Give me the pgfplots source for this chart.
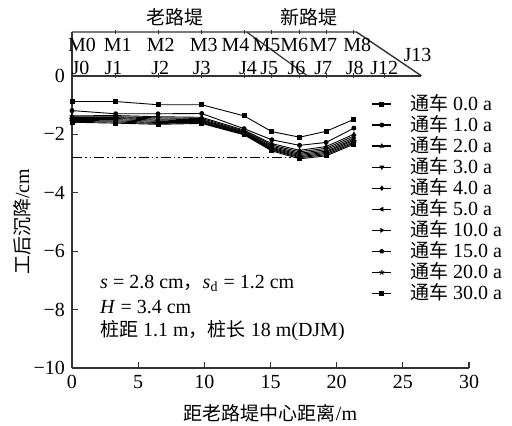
\documentclass[border=0pt]{standalone}
\usepackage{fontspec}
\setmainfont{Liberation Serif}
\newfontfamily\cjk{Noto Sans CJK SC}[Scale=0.95]
\usepackage{pgfplots}
\pgfplotsset{compat=1.18}
\newcommand{\tc}[1]{\hspace{7pt}{\cjk 通车} #1 a}
\begin{document}
\begin{tikzpicture}
\begin{axis}[
  scale only axis, width=198.5pt, height=168pt,
  xmin=0, xmax=30, ymin=-10, ymax=1.5,
  axis lines=left, axis line style={-, line width=0.7pt, black!80},
  xtick={0,5,...,30}, ytick={-10,-8,-6,-4,-2,0},
  yticklabels={−10,−8,−6,−4,−2,0},
  tick align=inside, major tick length=3pt, tick style={line width=0.6pt, black!80},
  /pgf/number format/assume math mode=true,
  font=\fontsize{10}{12}\selectfont,
  xlabel={{\cjk 距老路堤中心距离}/m},
  xlabel style={at={(axis description cs:0.5,-0.135)}, anchor=center},
  ylabel={{\cjk 工后沉降}/cm},
  ylabel style={at={(axis description cs:-0.126,0.4348)}, anchor=center},
  clip=false,
  legend cell align=left,
  legend style={draw=none, fill=none, at={(axis cs:22.15,-0.35)}, anchor=north west,
    row sep=-3pt, font=\fontsize{10}{12}\selectfont,
    nodes={inner xsep=2pt}},
  legend image code/.code={\draw[line width=0.6pt, mark=none] (0cm,0cm) -- (0.34cm,0cm);
    \draw[mark repeat=2,mark phase=2] plot coordinates {(0cm,0cm)(0.17cm,0cm)(0.34cm,0cm)};},
  every axis plot/.append style={black, line width=0.45pt, mark size=1.0pt},
]
\addplot[mark=square*] coordinates {(0,-0.88)(3.3,-0.88)(6.5,-0.99)(9.8,-0.99)(13.0,-1.37)(15.1,-1.91)(17.2,-2.10)(19.2,-1.90)(21.3,-1.49)};
\addlegendentry{\tc{0.0}}
\addplot[mark=*] coordinates {(0,-1.19)(3.3,-1.30)(6.5,-1.30)(9.8,-1.29)(13.0,-1.81)(15.1,-2.19)(17.2,-2.38)(19.2,-2.28)(21.3,-1.79)};
\addlegendentry{\tc{1.0}}
\addplot[mark=triangle*] coordinates {(0,-1.37)(3.3,-1.36)(6.5,-1.40)(9.8,-1.42)(13.0,-1.86)(15.1,-2.32)(17.2,-2.55)(19.2,-2.42)(21.3,-2.00)};
\addlegendentry{\tc{2.0}}
\addplot[mark=triangle*, mark options={rotate=180}] coordinates {(0,-1.40)(3.3,-1.40)(6.5,-1.44)(9.8,-1.46)(13.0,-1.89)(15.1,-2.37)(17.2,-2.60)(19.2,-2.48)(21.3,-2.06)};
\addlegendentry{\tc{3.0}}
\addplot[mark=diamond*] coordinates {(0,-1.43)(3.3,-1.43)(6.5,-1.48)(9.8,-1.50)(13.0,-1.92)(15.1,-2.41)(17.2,-2.65)(19.2,-2.53)(21.3,-2.12)};
\addlegendentry{\tc{4.0}}
\addplot[mark=triangle*, mark options={rotate=90}] coordinates {(0,-1.46)(3.3,-1.46)(6.5,-1.52)(9.8,-1.53)(13.0,-1.94)(15.1,-2.45)(17.2,-2.69)(19.2,-2.58)(21.3,-2.17)};
\addlegendentry{\tc{5.0}}
\addplot[mark=triangle*, mark options={rotate=-90}] coordinates {(0,-1.50)(3.3,-1.50)(6.5,-1.56)(9.8,-1.56)(13.0,-1.96)(15.1,-2.48)(17.2,-2.73)(19.2,-2.62)(21.3,-2.21)};
\addlegendentry{\tc{10.0}}
\addplot[mark=pentagon*] coordinates {(0,-1.53)(3.3,-1.54)(6.5,-1.60)(9.8,-1.59)(13.0,-1.98)(15.1,-2.51)(17.2,-2.77)(19.2,-2.66)(21.3,-2.26)};
\addlegendentry{\tc{15.0}}
\addplot[mark=star, mark size=1.3pt] coordinates {(0,-1.56)(3.3,-1.58)(6.5,-1.63)(9.8,-1.61)(13.0,-2.00)(15.1,-2.54)(17.2,-2.80)(19.2,-2.70)(21.3,-2.30)};
\addlegendentry{\tc{20.0}}
\addplot[mark=square*] coordinates {(0,-1.59)(3.3,-1.62)(6.5,-1.66)(9.8,-1.63)(13.0,-2.02)(15.1,-2.57)(17.2,-2.84)(19.2,-2.74)(21.3,-2.34)};
\addlegendentry{\tc{30.0}}
% reference line s = 2.8 cm
\addplot[forget plot, black, line width=0.6pt, dash pattern=on 5pt off 1.5pt on 0.8pt off 1.5pt on 0.8pt off 1.5pt] coordinates {(0,-2.8)(17.2,-2.8)};
% embankment sketch
\addplot[forget plot, black!80, line width=0.7pt] coordinates {(0,0)(26.4,0)};
\addplot[forget plot, black!80, line width=0.7pt] coordinates {(0,1.5)(21.5,1.5)(26.4,0)};
\addplot[forget plot, black!80, line width=0.6pt] coordinates {(13.2,1.5)(17.8,0)};
\addplot[forget plot, only marks, mark=|, mark size=1.2pt, black!80] coordinates {(3.3,0)(6.5,0)(9.8,0)(13.0,0)(15.1,0)(17.2,0)(19.2,0)(21.3,0)(23.6,0)};
\addplot[forget plot, only marks, mark=|, mark size=1.2pt, black!80] coordinates {(3.3,1.5)(6.5,1.5)(9.8,1.5)(13.0,1.5)(15.1,1.5)(17.2,1.5)(19.2,1.5)(21.3,1.5)};
\node at (axis cs:7.8,1.99) {\cjk 老路堤};
\node at (axis cs:17.9,1.99) {\cjk 新路堤};
\node at (axis cs:0.76,1.06) {M0};
\node at (axis cs:3.45,1.06) {M1};
\node at (axis cs:6.7,1.06) {M2};
\node at (axis cs:9.96,1.06) {M3};
\node at (axis cs:12.35,1.06) {M4};
\node at (axis cs:14.7,1.06) {M5};
\node at (axis cs:16.8,1.06) {M6};
\node at (axis cs:18.98,1.06) {M7};
\node at (axis cs:21.55,1.06) {M8};
\node at (axis cs:0.64,0.27) {J0};
\node at (axis cs:3.14,0.27) {J1};
\node at (axis cs:6.67,0.27) {J2};
\node at (axis cs:9.8,0.27) {J3};
\node at (axis cs:13.3,0.27) {J4};
\node at (axis cs:14.9,0.27) {J5};
\node at (axis cs:16.97,0.27) {J6};
\node at (axis cs:18.98,0.27) {J7};
\node at (axis cs:21.36,0.27) {J8};
\node at (axis cs:23.6,0.27) {J12};
\node at (axis cs:26.1,0.72) {J13};
\node[anchor=west] at (axis cs:1.6,-7.1) {\textit{s} = 2.8 cm{\cjk ，}\textit{s}\textsubscript{d} = 1.2 cm};
\node[anchor=west] at (axis cs:1.6,-7.92) {\textit{H} = 3.4 cm};
\node[anchor=west] at (axis cs:1.6,-8.71) {{\cjk 桩距} 1.1 m{\cjk ，桩长} 18 m(DJM)};
\end{axis}
\pgfresetboundingbox
\path[use as bounding box] ([shift={(-36pt,-29pt)}]current axis.south west) rectangle ([shift={(220pt,184pt)}]current axis.south west);
\end{tikzpicture}
\end{document}
